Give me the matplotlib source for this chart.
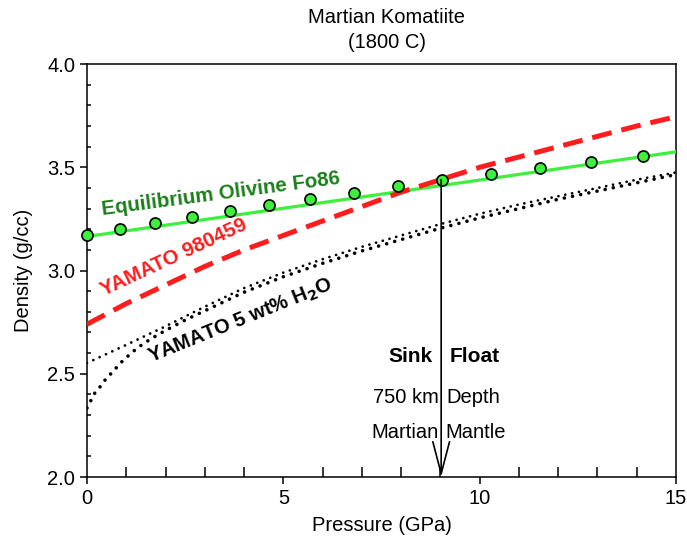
import matplotlib
matplotlib.use("Agg")
import matplotlib.pyplot as plt
from matplotlib.ticker import MultipleLocator, FormatStrFormatter

plt.rcParams['font.family'] = ['Liberation Sans', 'DejaVu Sans']

# Olivine Fo86 (markers)
oliv_p = [0.0, 0.84, 1.73, 2.67, 3.64, 4.63, 5.68, 6.79, 7.92, 9.04, 10.29, 11.54, 12.83, 14.16]
oliv_d = [3.172, 3.201, 3.230, 3.259, 3.288, 3.317, 3.346, 3.375, 3.409, 3.438, 3.467, 3.496, 3.525, 3.554]
# Olivine line
oliv_line_p = [0.0, 15.0]
oliv_line_d = [3.165, 3.575]

# YAMATO 980459 (red dashed)
yam_p = [0, 1, 2, 3, 4, 5, 6, 7, 8, 9, 10, 11, 12, 13, 14, 15]
yam_d = [2.74, 2.84, 2.93, 3.02, 3.10, 3.17, 3.24, 3.31, 3.38, 3.44, 3.50, 3.55, 3.60, 3.65, 3.70, 3.745]

# YAMATO 5 wt% H2O (two dotted curves)
wet1_p = [0, 1, 2, 3, 4, 5, 6, 7, 8, 9, 10, 11, 12, 13, 14, 15]
wet1_d = [2.552, 2.64, 2.73, 2.825, 2.915, 2.99, 3.055, 3.115, 3.17, 3.225, 3.275, 3.32, 3.36, 3.40, 3.44, 3.475]
wet2_p = [0, 0.2, 0.33, 0.5, 0.66, 0.84, 1.04, 1.22, 1.43, 1.68, 2, 2.5, 3, 4, 5, 6, 7, 8, 9, 10, 11, 12, 13, 14, 15]
wet2_d = [2.334, 2.407, 2.436, 2.48, 2.51, 2.55, 2.585, 2.615, 2.645, 2.675, 2.71, 2.76, 2.805, 2.895, 2.97,
          3.035, 3.095, 3.15, 3.205, 3.255, 3.30, 3.345, 3.385, 3.425, 3.465]

crossing_p = 9.02
crossing_d = 3.44

fs = 14.5

fig = plt.figure(figsize=(6.87, 5.43), dpi=100)
ax = fig.add_axes([0.1266, 0.1215, 0.8574, 0.7605])

ax.plot(oliv_line_p, oliv_line_d, color='#3cf03c', lw=2.3, zorder=3)
ax.plot(oliv_p, oliv_d, 'o', ms=8, mfc='#3cf03c', mec='black', mew=1.2, zorder=5, clip_on=False)
ax.plot(yam_p, yam_d, color='#ff1c1c', lw=3.6, dashes=(4, 2), zorder=4)
ax.plot(wet1_p, wet1_d, color='black', lw=2.0, dashes=(0.01, 2.5), dash_capstyle='round', zorder=2)
ax.plot(wet2_p, wet2_d, color='black', lw=2.6, dashes=(0.01, 2.3), dash_capstyle='round', zorder=2)

# Arrow
ax.annotate('', xy=(crossing_p, 2.0), xytext=(crossing_p, crossing_d),
            arrowprops=dict(arrowstyle='->,head_length=2.3,head_width=0.6', color='black', lw=1.2,
                            shrinkA=0, shrinkB=0), zorder=6)

ax.text(crossing_p - 0.22, 2.585, 'Sink', ha='right', va='center', fontsize=15, fontweight='bold')
ax.text(crossing_p + 0.22, 2.585, 'Float', ha='left', va='center', fontsize=15, fontweight='bold')
ax.text(crossing_p - 0.06, 2.383, '750 km', ha='right', va='center', fontsize=fs)
ax.text(crossing_p + 0.12, 2.383, 'Depth', ha='left', va='center', fontsize=fs)
ax.text(crossing_p - 0.06, 2.218, 'Martian', ha='right', va='center', fontsize=fs)
ax.text(crossing_p + 0.10, 2.218, 'Mantle', ha='left', va='center', fontsize=fs)

ax.text(3.41, 3.37, 'Equilibrium Olivine Fo86', color='#1a7f1a', fontsize=14.8, fontweight='bold',
        rotation=7.5, ha='center', va='center', rotation_mode='anchor')
ax.text(2.2, 3.065, 'YAMATO 980459', color='#ff1c1c', fontsize=14.8, fontweight='bold',
        rotation=25, ha='center', va='center', rotation_mode='anchor')
ax.text(3.92, 2.757, 'YAMATO 5 wt% H$_\\mathbf{2}$O', color='black', fontsize=14.5, fontweight='bold',
        rotation=22, ha='center', va='center', rotation_mode='anchor')

ax.set_xlim(0, 15)
ax.set_ylim(2.0, 4.0)
ax.xaxis.set_major_locator(MultipleLocator(5))
ax.xaxis.set_minor_locator(MultipleLocator(1))
ax.yaxis.set_major_locator(MultipleLocator(0.5))
ax.yaxis.set_minor_locator(MultipleLocator(0.1))
ax.yaxis.set_major_formatter(FormatStrFormatter('%.1f'))
ax.tick_params(which='major', direction='out', length=5, width=1.1, labelsize=fs)
ax.tick_params(axis='x', which='minor', direction='in', length=7, width=1.1)
ax.tick_params(axis='y', which='minor', direction='in', length=3, width=1.1)
ax.tick_params(top=False, right=False, which='both')
for s in ax.spines.values():
    s.set_linewidth(1.1)

ax.set_xlabel('Pressure (GPa)', fontsize=fs, labelpad=6)
ax.set_ylabel('Density (g/cc)', fontsize=fs, labelpad=10)
fig.text(0.563, 0.967, 'Martian Komatiite', ha='center', va='center', fontsize=fs)
fig.text(0.563, 0.921, '(1800 C)', ha='center', va='center', fontsize=fs)

fig.savefig('out.png', dpi=100)
